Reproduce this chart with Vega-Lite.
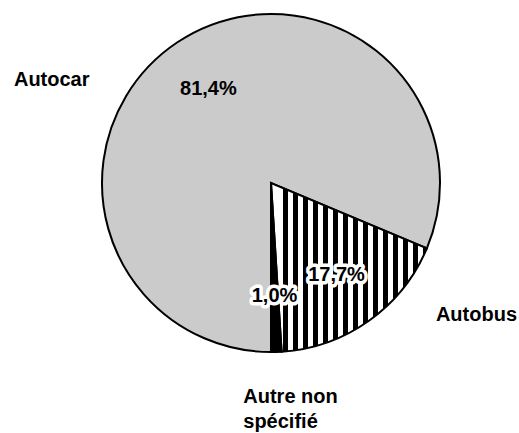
{
  "$schema": "https://vega.github.io/schema/vega-lite/v6.json",
  "width": 496,
  "height": 366,
  "autosize": "none",
  "padding": {"left": 23, "top": 0, "right": 0, "bottom": 67},
  "background": "white",
  "config": {"view": {"stroke": null}, "text": {"font": "Liberation Sans", "fontSize": 20, "fontWeight": "bold"}},
  "data": {"values": [
    {"category": "Autocar", "value": 81.4, "pct": "81,4%"},
    {"category": "Autobus", "value": 17.7, "pct": "17,7%"},
    {"category": "Autre non\nspécifié", "value": 1.0, "pct": "1,0%"}
  ]},
  "encoding": {
    "theta": {"field": "value", "type": "quantitative", "stack": true, "scale": {"range": [3.0788, 9.3620]}},
    "order": {"field": "category", "type": "nominal", "sort": "descending"},
    "detail": {"field": "category", "type": "nominal"}
  },
  "layer": [
    {
      "mark": {"type": "arc", "radius": 169, "stroke": "black", "strokeWidth": 2},
      "encoding": {
        "fill": {
          "condition": [
            {"test": "datum.category === 'Autobus'", "value": {
              "gradient": "linear", "x1": 0, "y1": 0, "x2": 1, "y2": 0,
              "stops": [
                {"offset": 0, "color": "#ffffff"},
                {"offset": 0.0772, "color": "#ffffff"}, {"offset": 0.0772, "color": "#000000"}, {"offset": 0.1061, "color": "#000000"}, {"offset": 0.1061, "color": "#ffffff"},
                {"offset": 0.1415, "color": "#ffffff"}, {"offset": 0.1415, "color": "#000000"}, {"offset": 0.1704, "color": "#000000"}, {"offset": 0.1704, "color": "#ffffff"},
                {"offset": 0.2058, "color": "#ffffff"}, {"offset": 0.2058, "color": "#000000"}, {"offset": 0.2347, "color": "#000000"}, {"offset": 0.2347, "color": "#ffffff"},
                {"offset": 0.2701, "color": "#ffffff"}, {"offset": 0.2701, "color": "#000000"}, {"offset": 0.2990, "color": "#000000"}, {"offset": 0.2990, "color": "#ffffff"},
                {"offset": 0.3344, "color": "#ffffff"}, {"offset": 0.3344, "color": "#000000"}, {"offset": 0.3633, "color": "#000000"}, {"offset": 0.3633, "color": "#ffffff"},
                {"offset": 0.3987, "color": "#ffffff"}, {"offset": 0.3987, "color": "#000000"}, {"offset": 0.4277, "color": "#000000"}, {"offset": 0.4277, "color": "#ffffff"},
                {"offset": 0.4630, "color": "#ffffff"}, {"offset": 0.4630, "color": "#000000"}, {"offset": 0.4920, "color": "#000000"}, {"offset": 0.4920, "color": "#ffffff"},
                {"offset": 0.5273, "color": "#ffffff"}, {"offset": 0.5273, "color": "#000000"}, {"offset": 0.5563, "color": "#000000"}, {"offset": 0.5563, "color": "#ffffff"},
                {"offset": 0.5916, "color": "#ffffff"}, {"offset": 0.5916, "color": "#000000"}, {"offset": 0.6206, "color": "#000000"}, {"offset": 0.6206, "color": "#ffffff"},
                {"offset": 0.6559, "color": "#ffffff"}, {"offset": 0.6559, "color": "#000000"}, {"offset": 0.6849, "color": "#000000"}, {"offset": 0.6849, "color": "#ffffff"},
                {"offset": 0.7203, "color": "#ffffff"}, {"offset": 0.7203, "color": "#000000"}, {"offset": 0.7492, "color": "#000000"}, {"offset": 0.7492, "color": "#ffffff"},
                {"offset": 0.7846, "color": "#ffffff"}, {"offset": 0.7846, "color": "#000000"}, {"offset": 0.8135, "color": "#000000"}, {"offset": 0.8135, "color": "#ffffff"},
                {"offset": 0.8489, "color": "#ffffff"}, {"offset": 0.8489, "color": "#000000"}, {"offset": 0.8778, "color": "#000000"}, {"offset": 0.8778, "color": "#ffffff"},
                {"offset": 0.9132, "color": "#ffffff"}, {"offset": 0.9132, "color": "#000000"}, {"offset": 0.9421, "color": "#000000"}, {"offset": 0.9421, "color": "#ffffff"},
                {"offset": 0.9775, "color": "#ffffff"}, {"offset": 0.9775, "color": "#000000"}, {"offset": 1, "color": "#000000"}
              ]
            }},
            {"test": "datum.category === 'Autocar'", "value": "#cbcbcb"}
          ],
          "value": "#000000"
        }
      }
    },
    {
      "mark": {"type": "text", "radius": 113, "fill": "white", "stroke": "white", "strokeWidth": 7, "strokeJoin": "round"},
      "encoding": {
        "text": {"condition": {"test": "datum.category !== 'Autocar'", "field": "pct"}, "value": ""}
      }
    },
    {
      "mark": {"type": "text", "radius": 113, "fill": "black"},
      "encoding": {"text": {"field": "pct", "type": "nominal"}}
    },
    {
      "mark": {"type": "text", "radius": 200, "fill": "black", "align": "right", "baseline": "middle", "dx": -70.7, "dy": 63.8},
      "encoding": {"text": {"condition": {"test": "datum.category === 'Autocar'", "field": "category"}, "value": ""}}
    },
    {
      "mark": {"type": "text", "radius": 200, "fill": "black", "align": "left", "baseline": "middle", "dx": 49, "dy": -30.6},
      "encoding": {"text": {"condition": {"test": "datum.category === 'Autobus'", "field": "category"}, "value": ""}}
    },
    {
      "mark": {"type": "text", "radius": 200, "fill": "black", "align": "left", "baseline": "middle", "lineBreak": "\n", "lineHeight": 25, "dx": -34, "dy": 13.6},
      "encoding": {"text": {"condition": {"test": "indexof(datum.category, 'Autre') === 0", "field": "category"}, "value": ""}}
    }
  ]
}
